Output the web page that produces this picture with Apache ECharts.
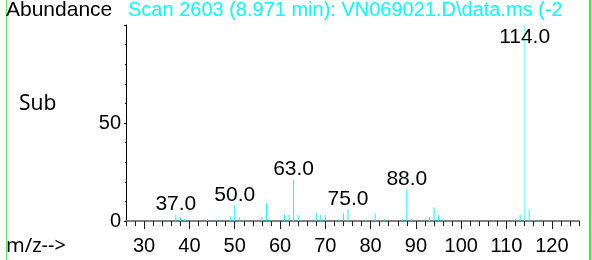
<!DOCTYPE html>
<html>
<head>
<meta charset="utf-8">
<script src="https://cdn.jsdelivr.net/npm/echarts@6/dist/echarts.min.js"></script>
<style>
  html, body { margin: 0; padding: 0; background: #fff; }
  #chart { width: 592px; height: 260px; }
</style>
</head>
<body>
<div id="chart"></div>
<script>
// 质谱数据 (m/z, 相对丰度)
var mz = [37, 38, 39, 44, 46, 49, 50, 51, 52, 56, 57, 58, 61, 62, 63, 64, 68, 69, 70, 73,
  74, 75, 79, 81, 83, 87, 88, 89, 92, 93, 94, 95, 96, 112, 113, 114, 115, 116];
var abundance = [3, 2, 1, 1, 0.5, 2.5, 8, 2, 0.5, 2, 9, 0.5, 3, 3, 21, 3, 4, 3, 3, 1,
  4, 6, 0.5, 4, 1, 1, 16, 1, 1, 2, 7, 3, 0.5, 1, 3, 100, 6, 0.5];
var labelledPeaks = [37, 50, 63, 75, 88, 114];
var xTickLabels = [30, 40, 50, 60, 70, 80, 90, 100, 110, 120];
var xMinorTicks = [];
for (var t = 26; t <= 126; t += 2) xMinorTicks.push(t);

var font = "Liberation Sans";

var chart = echarts.init(document.getElementById("chart"));

var barData = mz.map(function(m, i) {
  var item = { value: [m, abundance[i]] };
  if (labelledPeaks.indexOf(m) >= 0) {
    item.label = { show: true, position: "top", distance: 0 };
  }
  if (m === 114) {
    item.itemStyle = { color: "#80ffff", borderColor: "#80ffff", borderWidth: 1 };
    item.label = { show: true, position: "insideTop", distance: 2 };
  }
  return item;
});

var option = {
  animation: false,
  title: [
    {
      text: "Abundance", left: 6, top: 0, padding: 0,
      textStyle: { fontFamily: font, fontSize: 21, fontWeight: "normal", color: "#000" }
    },
    {
      text: "Scan 2603 (8.971 min): VN069021.D\\data.ms (-2", left: 128, top: 0, padding: 0,
      textStyle: { fontFamily: font, fontSize: 20, fontWeight: "normal", color: "#00ffff" }
    },
    {
      text: "Sub", left: 19, top: 94, padding: 0,
      textStyle: { fontFamily: "Noto Sans", fontSize: 21, fontWeight: "normal", color: "#000" }
    },
    {
      text: "m/z-->", left: 6, top: 236, padding: 0,
      textStyle: { fontFamily: "Noto Sans", fontSize: 20, fontWeight: "normal", color: "#000" }
    }
  ],
  grid: { left: 126, right: 13, top: 25, bottom: 39, outerBoundsMode: "none" },
  xAxis: [
    {
      type: "value", min: 26, max: 126, position: "bottom",
      axisLine: { show: true, lineStyle: { color: "#808080", width: 2 } },
      axisTick: { show: true, customValues: xMinorTicks, length: 5, lineStyle: { color: "#222" } },
      axisLabel: { customValues: xTickLabels, margin: 15, fontFamily: font, fontSize: 20, color: "#000" },
      splitLine: { show: false }
    },
    {
      type: "value", min: 26, max: 126, position: "bottom",
      axisLine: { show: false },
      axisTick: { show: true, customValues: xTickLabels, length: 8, lineStyle: { color: "#222" } },
      axisLabel: { show: false },
      splitLine: { show: false }
    }
  ],
  yAxis: {
    type: "value", min: 0, max: 100, interval: 50,
    axisLine: { show: true, lineStyle: { color: "#000" } },
    axisTick: { show: true, length: 2, lineStyle: { color: "#000" } },
    minorTick: { show: true, splitNumber: 5, length: 1, lineStyle: { color: "#000" } },
    axisLabel: { showMaxLabel: false, margin: 5, fontFamily: font, fontSize: 20, color: "#000" },
    splitLine: { show: false }
  },
  series: [
    {
      type: "bar",
      xAxisIndex: 0,
      barWidth: 1,
      itemStyle: { color: "#00ffff" },
      label: {
        fontFamily: font, fontSize: 21, color: "#000",
        formatter: function(p) { return p.value[0].toFixed(1); }
      },
      data: barData
    }
  ],
  graphic: [
    { type: "line", shape: { x1: 6.5, y1: 0, x2: 6.5, y2: 260 }, style: { stroke: "#55ee55", lineWidth: 1 } },
    { type: "line", shape: { x1: 590, y1: 0, x2: 590, y2: 260 }, style: { stroke: "#33ee33", lineWidth: 2 } }
  ]
};

chart.setOption(option);
</script>
</body>
</html>
